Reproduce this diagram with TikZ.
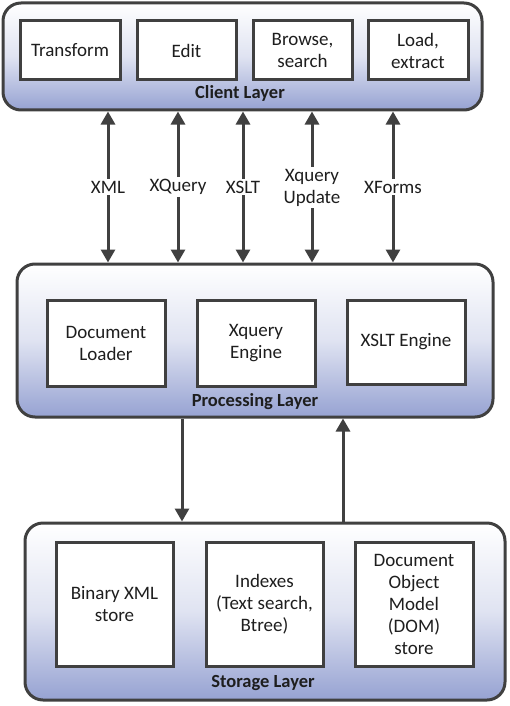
\documentclass[tikz,border=0pt]{standalone}
\usepackage{fontspec}
\setmainfont{Carlito}
\usetikzlibrary{arrows.meta}
\definecolor{edge}{HTML}{404040}
\definecolor{layerblue}{HTML}{96A2D2}
\definecolor{txt}{HTML}{1E1E1E}
\tikzset{
  layer/.style={draw=edge, line width=3pt, rounded corners=18pt, top color=white, bottom color=layerblue, middle color=white!70!layerblue, shading angle=0},
  inner/.style={draw=edge, line width=3pt, fill=white, align=center, text=txt, font=\fontsize{19}{22}\selectfont},
  layertitle/.style={text=txt, font=\bfseries\fontsize{18.5}{21}\selectfont},
  flowlbl/.style={fill=white, align=center, text=txt, inner sep=2pt, font=\fontsize{19}{22}\selectfont},
  conn/.style={draw=edge, line width=3pt, -{Triangle[length=13pt,width=14pt]}},
}
\begin{document}
\begin{tikzpicture}[x=1pt,y=-1pt]
\useasboundingbox (0,0) rectangle (510,706);
% Client layer
\node[layer, minimum width=479pt, minimum height=107pt] (client) at (242.5,56.5) {};
\node[inner, minimum width=100pt, minimum height=59pt] (transform) at (70,50.5) {Transform};
\node[inner, minimum width=99pt, minimum height=59pt] (edit) at (186.5,50.5) {Edit};
\node[inner, minimum width=99pt, minimum height=59pt] (browse) at (302.5,50.5) {Browse,\\search};
\node[inner, minimum width=100pt, minimum height=59pt] (load) at (418,50.5) {Load,\\extract};
\node[layertitle] (clientt) at (240,93) {Client Layer};
% Processing layer
\node[layer, minimum width=476pt, minimum height=153pt] (proc) at (255,340.5) {};
\node[inner, minimum width=118pt, minimum height=86pt] (loader) at (106,343) {Document\\Loader};
\node[inner, minimum width=118pt, minimum height=86pt] (xqe) at (256,343) {Xquery\\Engine};
\node[inner, minimum width=118pt, minimum height=84pt] (xslte) at (406,342) {XSLT Engine};
\node[layertitle] (proct) at (255,402) {Processing Layer};
% Storage layer
\node[layer, minimum width=480pt, minimum height=177pt] (store) at (265,611.5) {};
\node[inner, minimum width=117pt, minimum height=124pt] (binary) at (114.5,604) {Binary XML\\store};
\node[inner, minimum width=117pt, minimum height=124pt] (indexes) at (264.5,604) {Indexes\\(Text search,\\Btree)};
\node[inner, minimum width=118pt, minimum height=124pt] (dom) at (414,604) {Document\\Object\\Model\\(DOM)\\store};
\node[layertitle] (storet) at (263,683) {Storage Layer};
% Labels between client and processing
\node[flowlbl] (lxml) at (108,187) {XML};
\node[flowlbl] (lxq) at (178,187) {XQuery};
\node[flowlbl] (lxslt) at (243,187) {XSLT};
\node[flowlbl] (lxqu) at (312,187.5) {Xquery\\Update};
\node[flowlbl] (lxf) at (393,187) {XForms};
\foreach \l in {lxml,lxq,lxslt,lxqu,lxf}{
  \draw[conn] (\l.north) -- (client.south -| \l);
  \draw[conn] (\l.south) -- (proc.north -| \l);
}
% Between processing and storage
\coordinate (dn) at (182,470);
\coordinate (up) at (343,470);
\draw[conn] (proc.south -| dn) -- (store.north -| dn);
\draw[conn] (store.north -| up) -- (proc.south -| up);
\end{tikzpicture}
\end{document}
